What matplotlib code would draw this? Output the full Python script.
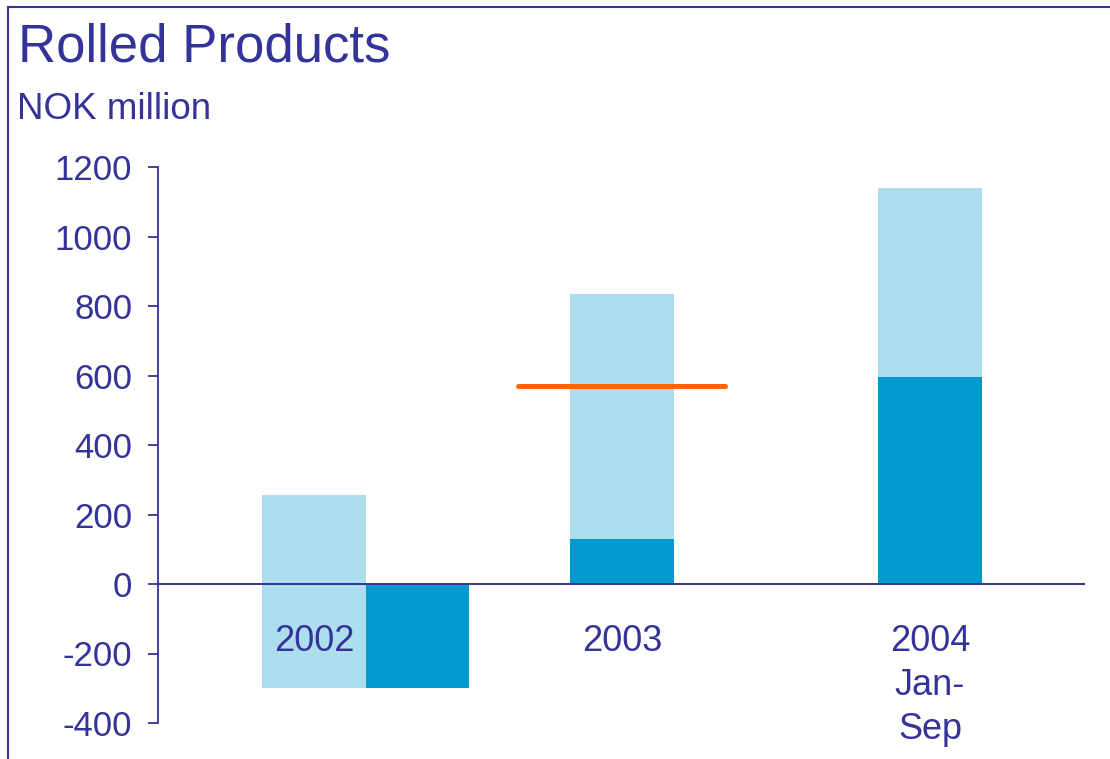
import matplotlib
matplotlib.use("Agg")
import matplotlib.pyplot as plt
from matplotlib.lines import Line2D

plt.rcParams['font.family'] = ['Liberation Sans', 'DejaVu Sans']
plt.rcParams['axes.unicode_minus'] = False

# Data
categories = ["2002", "2003", "2004\nJan-\nSep"]
light_bottom = [-300, 0, 0]
light_top = [255, 835, 1140]
dark_values = [-300, 130, 595]
dark_shift = [1, 0, 0]          # dark bar offset in bar widths
target_category = 1
target_value = 570
yticks = [-400, -200, 0, 200, 400, 600, 800, 1000, 1200]

NAVY = "#333399"
LIGHT = "#ADDEEE"
DARK = "#009BCC"
ORANGE = "#FF6600"

fig = plt.figure(figsize=(11.10, 7.59), dpi=100)
ax = fig.add_axes([158 / 1110, 1 - 723 / 759, (1085 - 158) / 1110, (723 - 167) / 759])

width = 0.336
x = list(range(len(categories)))

ax.bar(x, [t - b for t, b in zip(light_top, light_bottom)], bottom=light_bottom,
       width=width, color=LIGHT, zorder=2)
ax.bar([xi + s * width for xi, s in zip(x, dark_shift)], dark_values,
       width=width, color=DARK, zorder=3)

ax.plot([target_category - width, target_category + width],
        [target_value, target_value], color=ORANGE, lw=3.6,
        solid_capstyle="round", zorder=5)

ax.axhline(0, color=NAVY, lw=1.4, zorder=4)

ax.set_xlim(-0.506, 2.503)
ax.set_ylim(-400, 1200)
ax.set_yticks(yticks)
ax.set_xticks([])
for side in ("top", "right", "bottom"):
    ax.spines[side].set_visible(False)
ax.spines["left"].set_color(NAVY)
ax.spines["left"].set_linewidth(1.3)
ax.tick_params(axis="y", colors=NAVY, labelsize=25, length=7.5, width=1.3,
               pad=11, direction="out")
ax.patch.set_alpha(0)

for xi, label in zip(x, categories):
    ax.text(xi, -115, label, ha="center", va="top", color=NAVY,
            fontsize=26, linespacing=1.33, zorder=6)

fig.text(18 / 1110, 1 - 62 / 759, "Rolled Products", color=NAVY,
         fontsize=38, ha="left", va="baseline")
fig.text(17 / 1110, 1 - 119 / 759, "NOK million", color=NAVY,
         fontsize=26.5, ha="left", va="baseline")

# frame lines on left and top
fig.add_artist(Line2D([7.5 / 1110, 7.5 / 1110], [0, 1 - 7 / 759],
                      transform=fig.transFigure, color=NAVY, lw=1.5))
fig.add_artist(Line2D([7.5 / 1110, 1], [1 - 7 / 759, 1 - 7 / 759],
                      transform=fig.transFigure, color=NAVY, lw=1.5))

fig.savefig("out.png", dpi=100, facecolor="white")
